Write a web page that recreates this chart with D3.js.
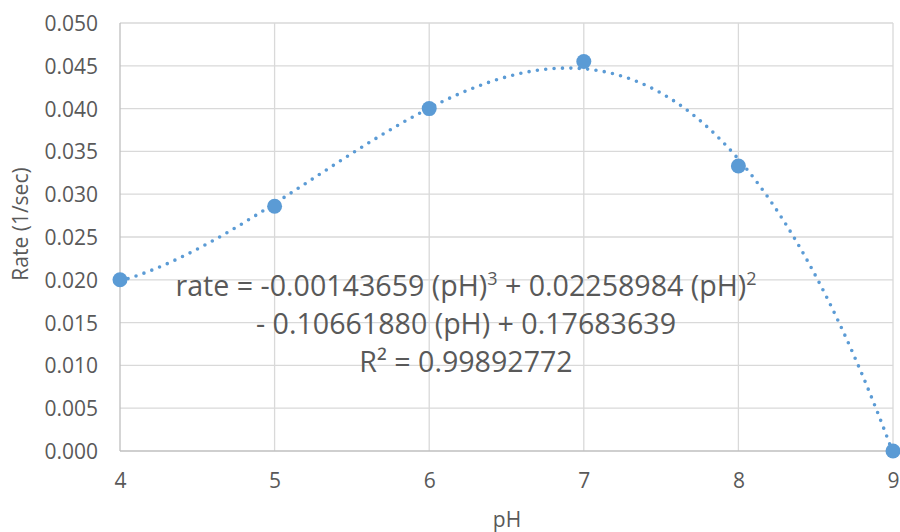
<!DOCTYPE html>
<html>
<head>
<meta charset="utf-8">
<script src="https://cdn.jsdelivr.net/npm/d3@7"></script>
<style>
  html, body { margin: 0; padding: 0; background: #fff; }
  svg { display: block; }
  text { font-family: "Open Sans", "Noto Sans", sans-serif; fill: #595959; }
</style>
</head>
<body>
<svg id="chart" width="900" height="532"></svg>
<script>
// Data
const pH = [4, 5, 6, 7, 8, 9];
const rate = [0.0200, 0.0286, 0.0400, 0.0455, 0.0333, 0.0000];
const xTicks = [4, 5, 6, 7, 8, 9];
const yTicks = [0, 0.005, 0.010, 0.015, 0.020, 0.025, 0.030, 0.035, 0.040, 0.045, 0.050];
// Trendline coefficients (cubic, highest power first) as shown on the chart
const trendCoef = [-0.00143659, 0.02258984, -0.10661880, 0.17683639];
const rSquared = "0.99892772";

const svg = d3.select("#chart");
const margin = { left: 120, right: 7, top: 23, bottom: 81 };
const W = 900, H = 532;

const x = d3.scaleLinear().domain([4, 9]).range([margin.left, W - margin.right]);
const y = d3.scaleLinear().domain([0, 0.05]).range([H - margin.bottom, margin.top]);

// Gridlines
const g = svg.append("g");
g.selectAll(".hgrid").data(yTicks.filter(d => d > 0)).enter().append("line")
  .attr("x1", x(4)).attr("x2", x(9))
  .attr("y1", d => y(d)).attr("y2", d => y(d))
  .attr("stroke", "#D9D9D9").attr("stroke-width", 1.3);
g.selectAll(".vgrid").data(xTicks.filter(d => d > 4)).enter().append("line")
  .attr("x1", d => x(d)).attr("x2", d => x(d))
  .attr("y1", y(0)).attr("y2", y(0.05))
  .attr("stroke", "#D9D9D9").attr("stroke-width", 1.3);

// Axes lines
svg.append("line").attr("x1", x(4)).attr("x2", x(9)).attr("y1", y(0)).attr("y2", y(0))
  .attr("stroke", "#BFBFBF").attr("stroke-width", 1.3);
svg.append("line").attr("x1", x(4)).attr("x2", x(4)).attr("y1", y(0)).attr("y2", y(0.05))
  .attr("stroke", "#BFBFBF").attr("stroke-width", 1.3);

// Tick labels via d3 axes
const xAxis = d3.axisBottom(x).tickValues(xTicks).tickSize(0).tickPadding(0).tickFormat(d3.format("d"));
const xa = svg.append("g").attr("transform", `translate(0,${y(0)})`).call(xAxis);
xa.select(".domain").remove();
xa.selectAll("text").attr("y", 37).attr("dy", null).style("font-size", "21px").attr("fill", "#595959")
  .style("font-family", '"Open Sans", sans-serif');

const yAxis = d3.axisLeft(y).tickValues(yTicks).tickSize(0).tickPadding(0).tickFormat(d3.format(".3f"));
const ya = svg.append("g").attr("transform", `translate(${x(4)},0)`).call(yAxis);
ya.select(".domain").remove();
ya.selectAll("text").attr("x", -22).attr("dy", "0.36em").style("font-size", "21px").attr("fill", "#595959")
  .style("font-family", '"Open Sans", sans-serif');

// Trendline
const poly = t => trendCoef.reduce((acc, c) => acc * t + c, 0);
const trendX = d3.range(4, 9.0001, 0.02);
const line = d3.line().x(d => x(d)).y(d => y(poly(d))).curve(d3.curveLinear);
svg.append("path").datum(trendX).attr("d", line)
  .attr("fill", "none").attr("stroke", "#5B9BD5").attr("stroke-width", 3.6)
  .attr("stroke-linecap", "round").attr("stroke-dasharray", "0 8.4");

// Markers
svg.selectAll(".pt").data(pH.map((d, i) => [d, rate[i]])).enter().append("circle")
  .attr("cx", d => x(d[0])).attr("cy", d => y(d[1])).attr("r", 7.5)
  .attr("fill", "#5B9BD5");

// Axis titles
svg.append("text").attr("x", 507).attr("y", 527).attr("text-anchor", "middle")
  .style("font-size", "21px").text("pH");
svg.append("text").attr("transform", "translate(28,224) rotate(-90)").attr("text-anchor", "middle")
  .style("font-size", "21px").text("Rate (1/sec)");

// Equation label
const eqX = 466, eqFs = 28.6;
const t1 = svg.append("text").attr("x", eqX).attr("y", 296).attr("text-anchor", "middle").style("font-size", eqFs + "px");
t1.append("tspan").text("rate = " + trendCoef[0].toFixed(8) + " (pH)");
t1.append("tspan").attr("dy", -11).style("font-size", "18px").text("3");
t1.append("tspan").attr("dy", 11).text(" + " + trendCoef[1].toFixed(8) + " (pH)");
t1.append("tspan").attr("dy", -11).style("font-size", "18px").text("2");
svg.append("text").attr("x", eqX).attr("y", 334).attr("text-anchor", "middle").style("font-size", eqFs + "px")
  .text("- " + Math.abs(trendCoef[2]).toFixed(8) + " (pH) + " + trendCoef[3].toFixed(8));
svg.append("text").attr("x", eqX).attr("y", 372).attr("text-anchor", "middle").style("font-size", eqFs + "px")
  .text("R² = " + rSquared);
</script>
</body>
</html>
